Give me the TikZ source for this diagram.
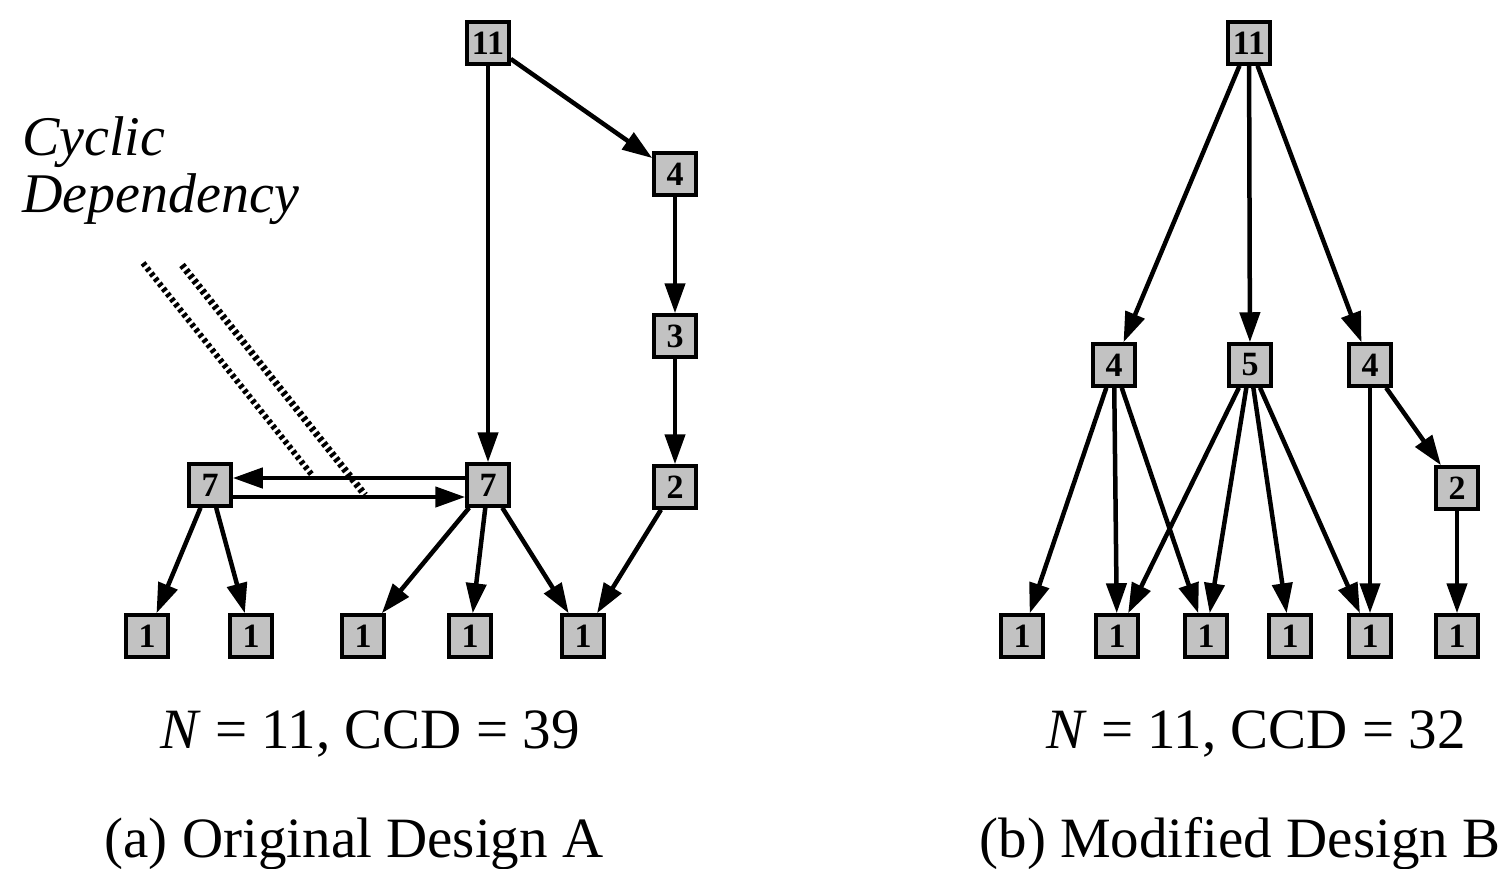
\documentclass[tikz,border=0pt]{standalone}
\usepackage{fontspec}
\setmainfont{Liberation Serif}
\usetikzlibrary{arrows.meta}
\begin{document}
\begin{tikzpicture}[x=1pt,y=-1pt,
  box/.style={draw, line width=3.5pt, fill=black!24, minimum size=42pt, inner sep=0pt, font=\fontsize{34}{34}\selectfont\bfseries},
  edge/.style={line width=4.5pt, -{Triangle[length=30pt,width=20pt]}},
  dots/.style={line width=7pt, dash pattern=on 3.5pt off 3pt},
  captext/.style={anchor=base, font=\fontsize{57}{57}\selectfont, inner sep=0pt}]
\useasboundingbox (0,0) rectangle (1506,868);
% ---------- (a) ----------
\node[box] (a11) at (488,43) {11};
\node[box] (a4) at (675,174) {4};
\node[box] (a3) at (675,336) {3};
\node[box] (a2) at (675,487) {2};
\node[box] (a7l) at (210,485) {7};
\node[box] (a7r) at (488,485) {7};
\node[box] (a1a) at (147,636) {1};
\node[box] (a1b) at (251,636) {1};
\node[box] (a1c) at (363,636) {1};
\node[box] (a1d) at (470,636) {1};
\node[box] (a1e) at (583,636) {1};
\draw[edge] (a11) -- (a7r);
\draw[edge] (a11) -- (a4);
\draw[edge] (a4) -- (a3);
\draw[edge] (a3) -- (a2);
\draw[edge] (a2) -- (a1e);
\draw[edge] (a7r) -- (a1c);
\draw[edge] (a7r) -- (a1d);
\draw[edge] (a7r) -- (a1e);
\draw[edge] (a7l) -- (a1a);
\draw[edge] (a7l) -- (a1b);
\draw[edge] ([yshift=7pt]a7r.west) -- ([yshift=7pt]a7l.east);
\draw[edge] ([yshift=-12pt]a7l.east) -- ([yshift=-12pt]a7r.west);
\coordinate (d1s) at (143,263);
\coordinate (d1e) at (312,475);
\coordinate (d2s) at (182,265);
\coordinate (d2e) at (365,495);
\draw[dots, line width=6pt] (d1s) -- (d1e);
\draw[dots] (d2s) -- (d2e);
\node[anchor=base west, inner sep=0pt, font=\fontsize{56}{56}\selectfont\itshape] (cyc) at (22,155) {Cyclic};
\node[anchor=base west, inner sep=0pt, font=\fontsize{56}{56}\selectfont\itshape] (dep) at (22,212) {Dependency};
\node[captext] (capa1) at (370,748) {\textit{N} = 11, CCD = 39};
\node[captext] (capa2) at (354,857) {(a) Original Design A};
% ---------- (b) ----------
\node[box] (b11) at (1249,43) {11};
\node[box] (b4a) at (1114,365) {4};
\node[box] (b5) at (1250,365) {5};
\node[box] (b4b) at (1370,365) {4};
\node[box] (b2) at (1457,488) {2};
\node[box] (b1a) at (1022,636) {1};
\node[box] (b1b) at (1117,636) {1};
\node[box] (b1c) at (1206,636) {1};
\node[box] (b1d) at (1290,636) {1};
\node[box] (b1e) at (1370,636) {1};
\node[box] (b1f) at (1457,636) {1};
\draw[edge] (b11) -- (b4a);
\draw[edge] (b11) -- (b5);
\draw[edge] (b11) -- (b4b);
\draw[edge] (b4a) -- (b1a);
\draw[edge] (b4a) -- (b1b);
\draw[edge] (b4a) -- (b1c);
\draw[edge] (b5) -- (b1b);
\draw[edge] (b5) -- (b1c);
\draw[edge] (b5) -- (b1d);
\draw[edge] (b5) -- (b1e);
\draw[edge] (b4b) -- (b1e);
\draw[edge] (b4b) -- (b2);
\draw[edge] (b2) -- (b1f);
\node[captext] (capb1) at (1256,748) {\textit{N} = 11, CCD = 32};
\node[captext] (capb2) at (1240,857) {(b) Modified Design B};
\end{tikzpicture}
\end{document}
